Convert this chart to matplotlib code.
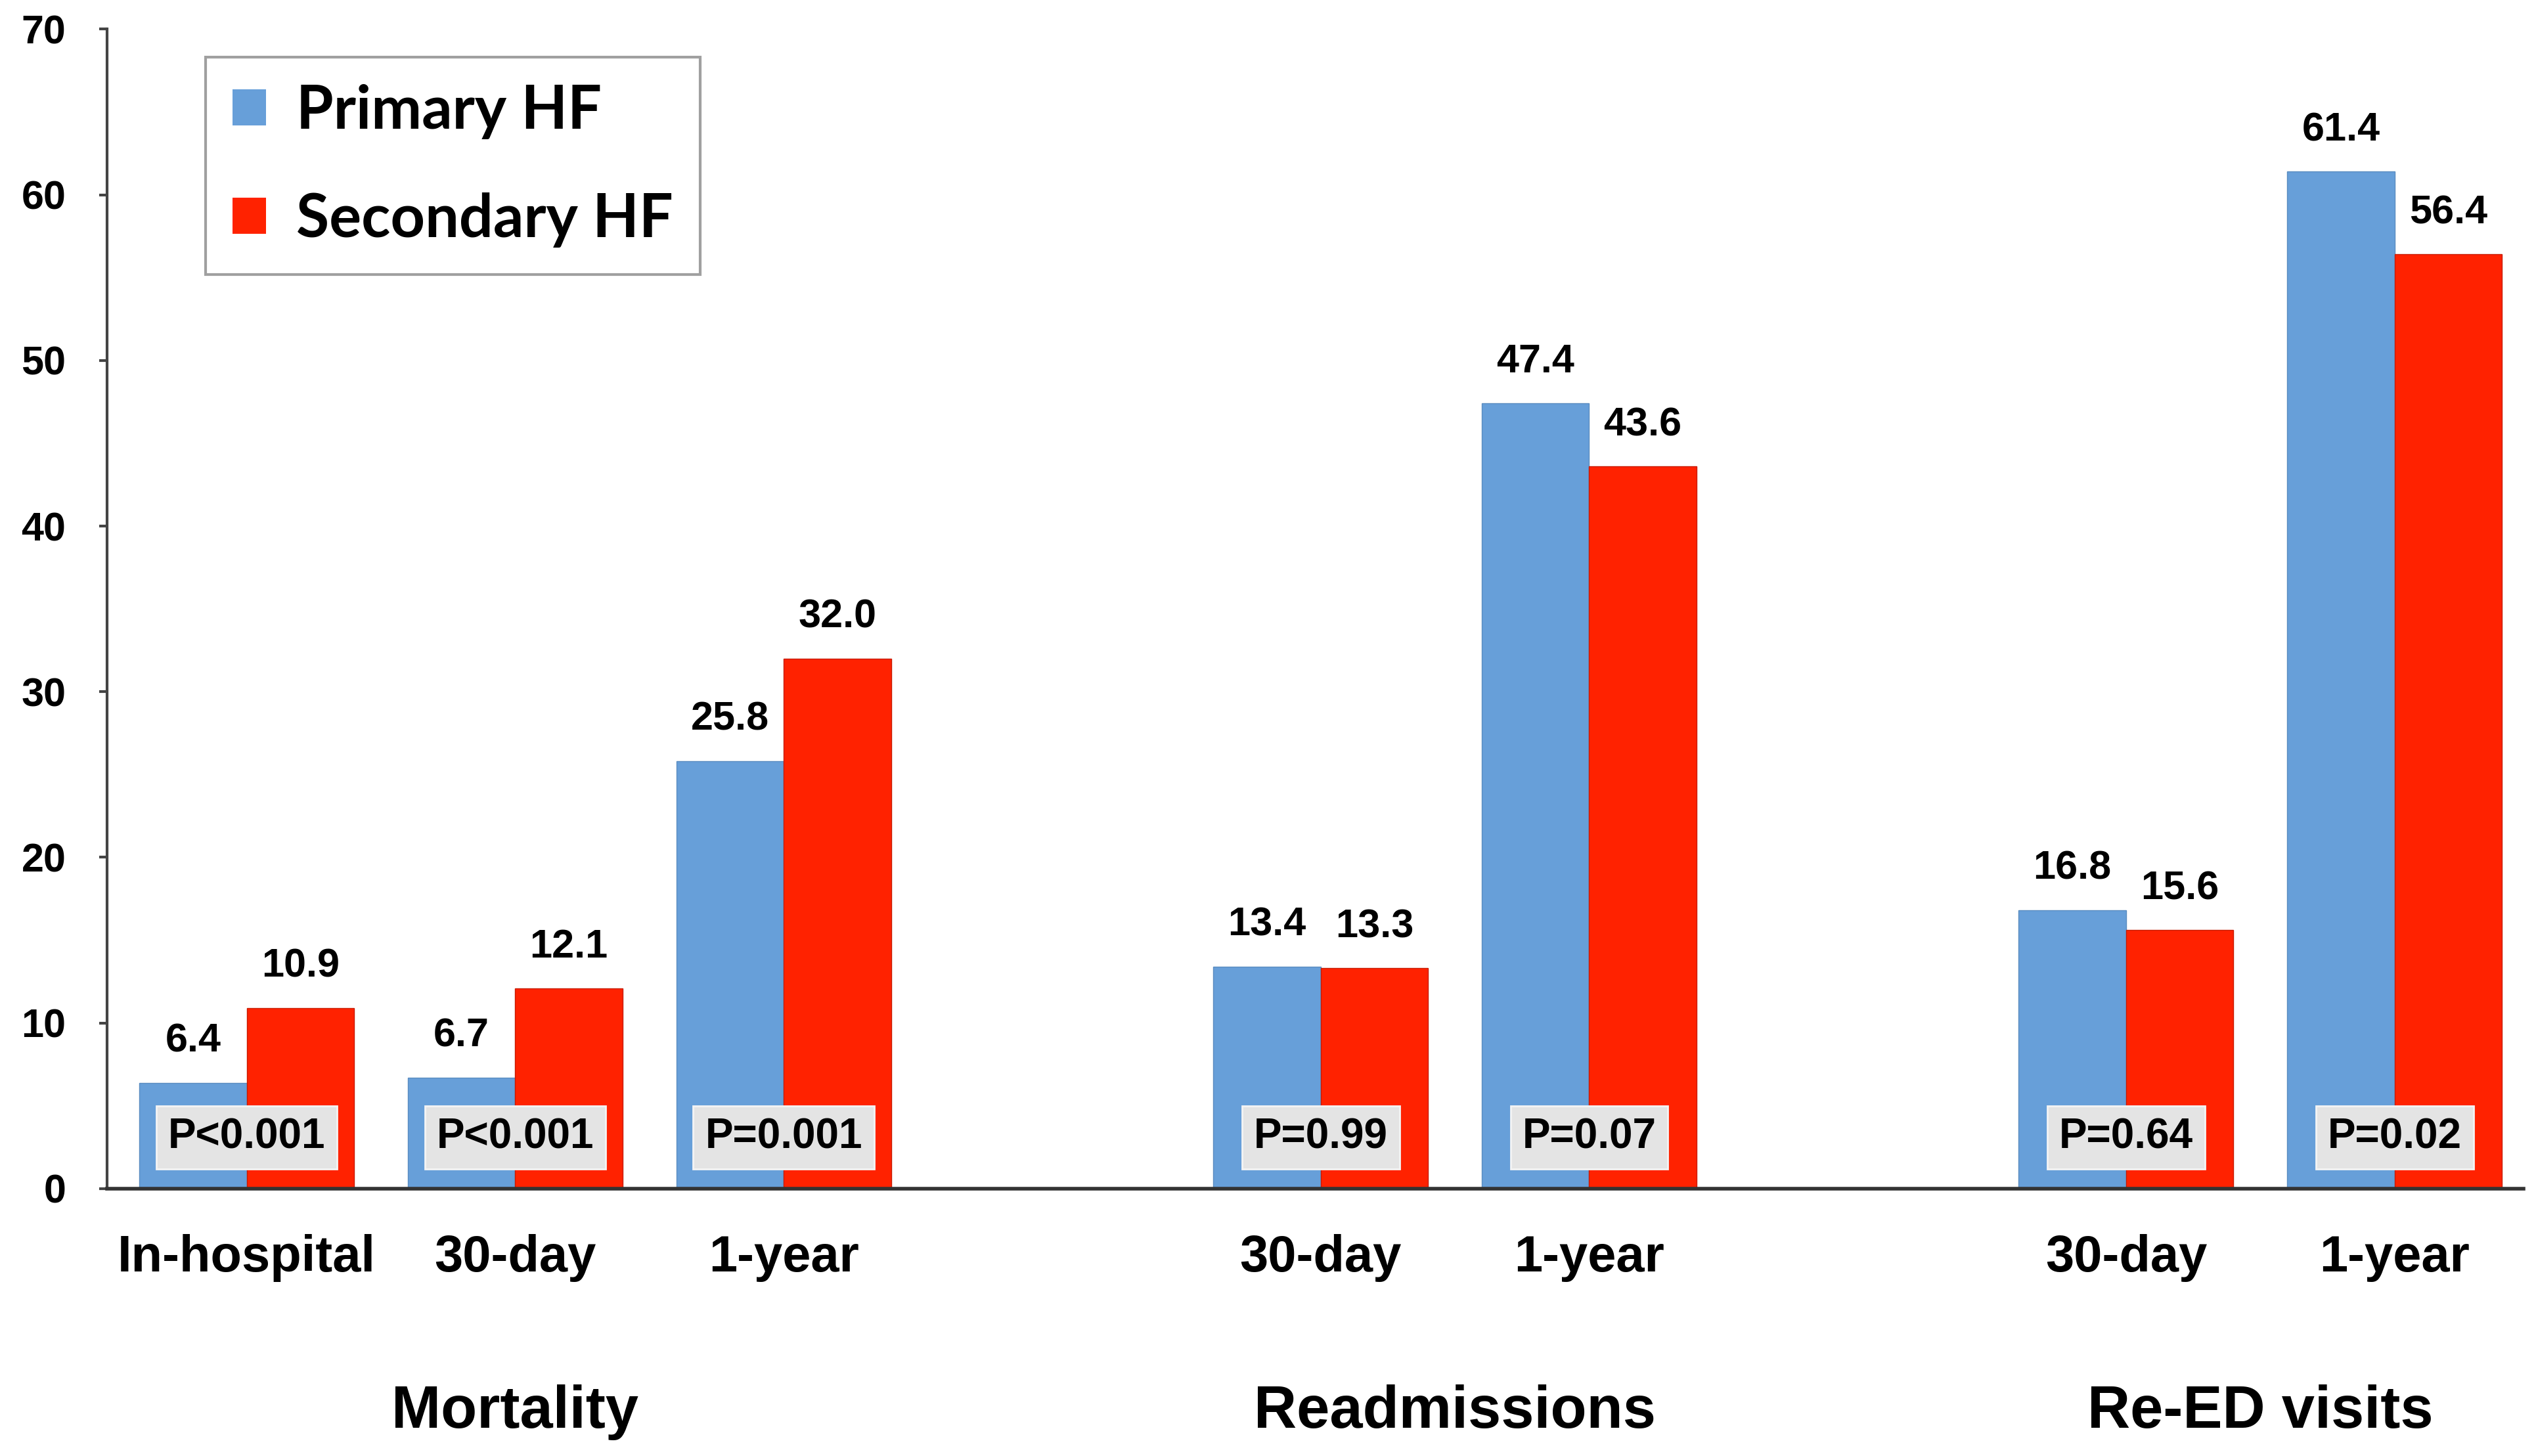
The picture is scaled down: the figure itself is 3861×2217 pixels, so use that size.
import numpy as np
import matplotlib
matplotlib.use("Agg")
import matplotlib.pyplot as plt
from matplotlib.patches import Patch

# data
categories = ["In-hospital", "30-day", "1-year", "30-day", "1-year", "30-day", "1-year"]
slots = [0, 1, 2, 4, 5, 7, 8]
primary = [6.4, 6.7, 25.8, 13.4, 47.4, 16.8, 61.4]
secondary = [10.9, 12.1, 32.0, 13.3, 43.6, 15.6, 56.4]
pvalues = ["P<0.001", "P<0.001", "P=0.001", "P=0.99", "P=0.07", "P=0.64", "P=0.02"]
groups = ["Mortality", "Readmissions", "Re-ED visits"]
group_pos = [1, 4.5, 7.5]

blue = "#679fd9"
red = "#ff2200"
narrow = ["Liberation Sans Narrow", "Liberation Sans", "DejaVu Sans"]

fig = plt.figure(figsize=(38.62, 22.17), dpi=100)
ax = fig.add_axes([0.0422, 0.1836, 0.9526, 0.7964])

x = np.array(slots, dtype=float)
w = 0.4
ax.bar(x - w / 2, primary, w, color=blue, edgecolor="#5a8cc0", linewidth=1, label="Primary HF")
ax.bar(x + w / 2, secondary, w, color=red, edgecolor="#c81a00", linewidth=1, label="Secondary HF")

for xi, p, s, pv in zip(x, primary, secondary, pvalues):
    ax.annotate("%.1f" % p, (xi - w / 2, p), xytext=(0, 34), textcoords="offset points",
                ha="center", va="baseline", fontsize=44, fontweight="bold", family=narrow)
    ax.annotate("%.1f" % s, (xi + w / 2, s), xytext=(0, 34), textcoords="offset points",
                ha="center", va="baseline", fontsize=44, fontweight="bold", family=narrow)
    ax.text(xi, 3.1, pv, ha="center", va="center", fontsize=46, fontweight="bold", family=narrow,
            bbox=dict(boxstyle="square,pad=0.28", facecolor="#e4e4e4", edgecolor="#f4f4f4", linewidth=2))

ax.set_xlim(-0.52, 8.48)
ax.set_ylim(0, 70)
ax.set_yticks(range(0, 71, 10))
ax.set_xticks(x)
ax.set_xticklabels(categories)

for sp in ["top", "right"]:
    ax.spines[sp].set_visible(False)
ax.spines["left"].set_color("#444444")
ax.spines["left"].set_linewidth(3)
ax.spines["bottom"].set_color("#333333")
ax.spines["bottom"].set_linewidth(4)

ax.tick_params(axis="y", length=9, width=3, color="#444444", pad=36)
ax.tick_params(axis="x", length=0, pad=50)
for lab in ax.get_yticklabels() + ax.get_xticklabels():
    lab.set_family(narrow)
    lab.set_fontweight("bold")
for lab in ax.get_yticklabels():
    lab.set_fontsize(44)
for lab in ax.get_xticklabels():
    lab.set_fontsize(56)

for g, gx in zip(groups, group_pos):
    ax.text(gx, -0.193, g, transform=ax.get_xaxis_transform(), ha="center", va="center",
            fontsize=65, fontweight="bold", family=narrow)

handles = [Patch(facecolor=blue), Patch(facecolor=red)]
leg = ax.legend(handles, ["Primary HF", "Secondary HF"], loc="upper left",
                bbox_to_anchor=(0.0408, 0.976), fancybox=False, shadow=False,
                prop=dict(family=["Lato", "DejaVu Sans"], weight="bold", size=66),
                handlelength=0.55, handleheight=0.55, handletextpad=0.5,
                labelspacing=0.88, borderpad=0.45, borderaxespad=0)
leg.get_frame().set_edgecolor("#888888")
leg.get_frame().set_linewidth(3)

fig.savefig("out.png", dpi=100, facecolor="white")
